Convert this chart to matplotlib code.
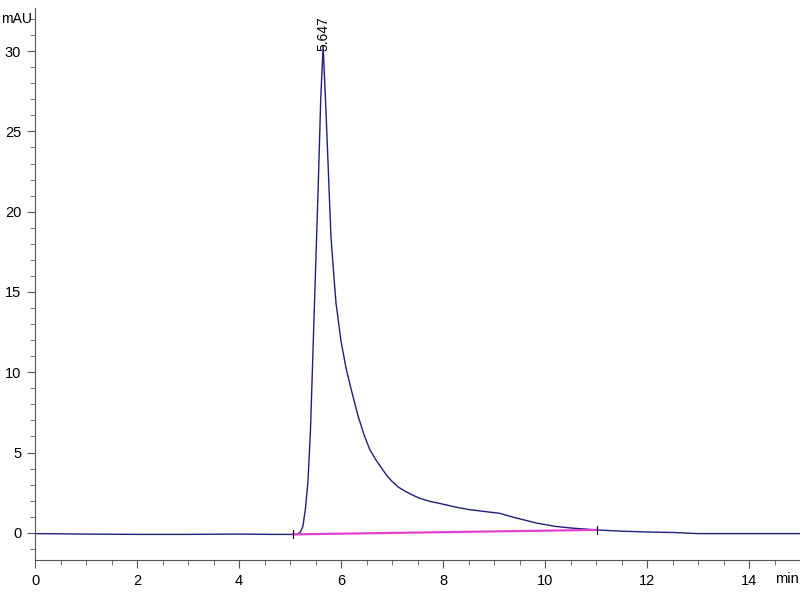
import matplotlib
matplotlib.use("Agg")
import matplotlib.pyplot as plt
from matplotlib.ticker import MultipleLocator

# chromatogram trace (min, mAU)
tempo = [0, 1, 2, 3, 4, 4.6, 5.0, 5.1, 5.15, 5.2, 5.25, 5.3, 5.35, 5.4, 5.45,
         5.5, 5.55, 5.6, 5.647, 5.7, 5.75, 5.8, 5.85, 5.9, 6.0, 6.1, 6.2,
         6.33, 6.45, 6.56, 6.68, 6.8, 6.9, 7.0, 7.12, 7.25, 7.4, 7.54, 7.75,
         8.0, 8.25, 8.5, 8.8, 9.1, 9.4, 9.84, 10.2, 10.5, 11.0, 11.5, 12.0,
         12.5, 13.0, 14.0, 15.0]
sinal = [-0.05, -0.08, -0.1, -0.1, -0.08, -0.1, -0.1, -0.1, -0.08, 0.05, 0.4,
         1.5, 3.2, 6.5, 11.5, 16.5, 21.5, 27.0, 30.3, 26.5, 22.5, 18.5, 16.3,
         14.3, 11.9, 10.2, 8.9, 7.3, 6.1, 5.2, 4.55, 4.0, 3.55, 3.2, 2.85,
         2.6, 2.35, 2.15, 1.95, 1.78, 1.6, 1.45, 1.33, 1.22, 0.95, 0.6, 0.4,
         0.3, 0.18, 0.1, 0.05, 0.02, -0.05, -0.05, -0.05]

# integration baseline
base_x = [5.05, 11.02]
base_y = [-0.1, 0.18]

pico_tr = 5.647
pico_h = 30.3

fig = plt.figure(figsize=(8, 6), dpi=100)
ax = fig.add_axes([0.044, 0.066, 0.956, 0.921])

ax.plot(tempo, sinal, color="#1f1f7a", lw=1.0)
ax.plot(base_x, base_y, color="#e040d0", lw=1.6)
for bx, by in zip(base_x, base_y):
    ax.plot([bx, bx], [by - 0.25, by + 0.25], color="black", lw=0.8)

ax.text(pico_tr, pico_h - 0.3, f"{pico_tr:.3f}", rotation=90, ha="center",
        va="bottom", fontsize=10, family="Liberation Sans")

ax.set_xlim(0, 15.0)
ax.set_ylim(-1.72, 32.7)

ax.xaxis.set_major_locator(MultipleLocator(2))
ax.xaxis.set_minor_locator(MultipleLocator(0.5))
ax.yaxis.set_major_locator(MultipleLocator(5))
ax.yaxis.set_minor_locator(MultipleLocator(1))

for s in ["top", "right"]:
    ax.spines[s].set_visible(False)
for s in ["left", "bottom"]:
    ax.spines[s].set_color("#555555")

ax.tick_params(which="major", length=6, color="#555555", labelsize=10.5, pad=4)
ax.tick_params(which="minor", length=3.5, color="#555555")
for lab in ax.get_xticklabels() + ax.get_yticklabels():
    lab.set_family("Liberation Sans")

fig.text(0.001, 1 - 19 / 600, "mAU", ha="left", va="center",
         fontsize=10, family="Liberation Sans")
fig.text(0.999, 1 - 579 / 600, "min", ha="right", va="center",
         fontsize=10.5, family="Liberation Sans")

plt.savefig("out.png", dpi=100)
